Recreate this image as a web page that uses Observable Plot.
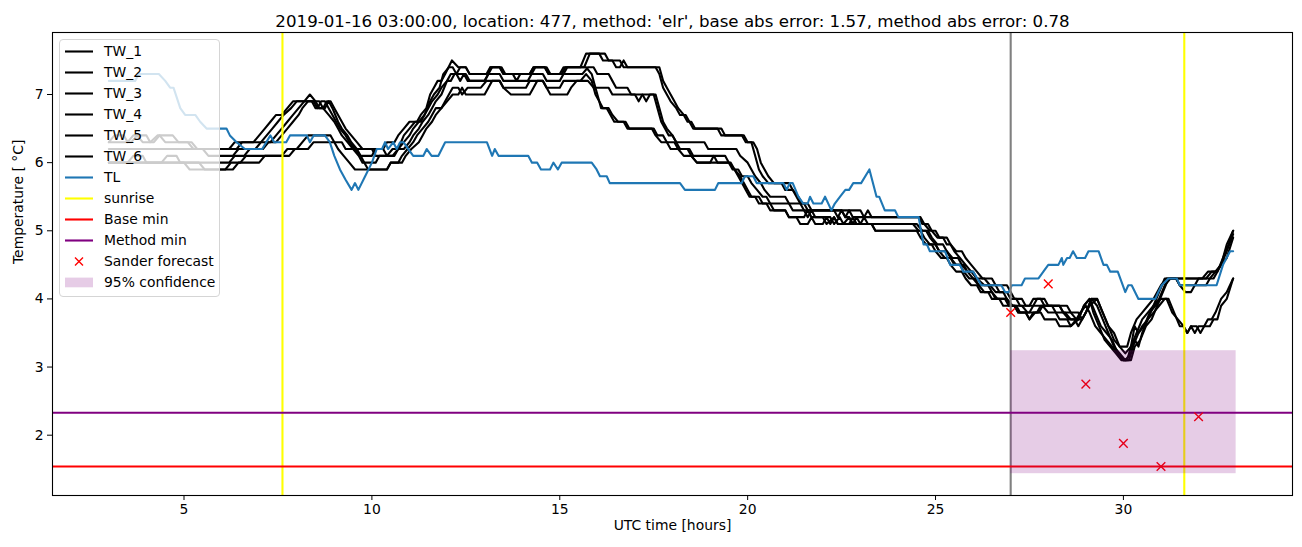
<!DOCTYPE html>
<html><head><meta charset="utf-8">
<script src="https://cdn.jsdelivr.net/npm/d3@7"></script>
<script src="https://cdn.jsdelivr.net/npm/@observablehq/plot@0.6"></script>
<style>
html,body{margin:0;padding:0;background:#fff;}
#wrap{position:relative;width:1302px;height:547px;font-family:"DejaVu Sans",sans-serif;color:#000;overflow:hidden;}
#legend{position:absolute;left:59px;top:39px;width:161px;height:258px;background:rgba(255,255,255,0.8);border:1px solid #d5d5d5;border-radius:4px;box-sizing:border-box;}
.row{position:absolute;left:0;height:21px;line-height:21px;font-size:13.9px;white-space:nowrap;}
.row svg{position:absolute;left:5px;top:0;}
.row span{position:absolute;left:44px;top:0;}
</style></head>
<body><div id="wrap"></div>
<script>
// ---- data ----
const TW_1 = [[3.0,6.3],[3.15,6.4],[3.4,6.4],[3.5,6.3],[3.65,6.4],[4.0,6.4],[4.1,6.3],[4.3,6.4],[4.7,6.4],[4.85,6.3],[5.2,6.3],[5.35,6.2],[6.2,6.2],[6.35,6.3],[6.85,6.3],[7.0,6.4],[7.15,6.5],[7.3,6.6],[7.45,6.7],[7.6,6.7],[7.75,6.8],[7.9,6.9],[8.2,6.9],[8.35,7.0],[8.5,6.9],[8.6,6.8],[8.75,6.8],[8.85,6.9],[8.95,6.8],[9.1,6.6],[9.2,6.5],[9.35,6.4],[9.45,6.3],[9.6,6.2],[10.3,6.2],[10.4,6.3],[10.6,6.3],[10.7,6.4],[10.85,6.5],[11.0,6.6],[11.2,6.6],[11.3,6.7],[11.45,6.8],[11.55,7.0],[11.65,7.1],[11.75,7.2],[11.85,7.2],[11.95,7.3],[12.13,7.5],[12.3,7.4],[12.5,7.4],[12.6,7.3],[13.05,7.3],[13.15,7.4],[13.45,7.4],[13.55,7.3],[14.2,7.3],[14.3,7.4],[14.6,7.4],[14.7,7.3],[15.0,7.3],[15.1,7.4],[15.55,7.4],[15.7,7.6],[16.05,7.6],[16.15,7.5],[16.4,7.5],[16.5,7.4],[16.6,7.4],[16.7,7.5],[16.8,7.4],[17.55,7.4],[17.65,7.3],[17.75,7.1],[17.85,7.0],[17.95,6.9],[18.1,6.8],[18.2,6.7],[18.35,6.7],[18.45,6.6],[18.55,6.5],[19.2,6.5],[19.3,6.4],[19.85,6.4],[19.95,6.3],[20.1,6.3],[20.2,6.1],[20.3,5.9],[20.4,5.8],[20.55,5.7],[20.9,5.7],[21.0,5.6],[21.2,5.6],[21.3,5.5],[21.4,5.4],[21.5,5.3],[22.5,5.3],[22.6,5.2],[22.7,5.3],[22.8,5.2],[24.55,5.2],[24.65,5.1],[24.8,5.1],[24.9,5.0],[25.05,4.9],[25.2,4.9],[25.3,4.8],[25.4,4.8],[25.5,4.7],[25.65,4.6],[25.8,4.5],[25.95,4.4],[26.1,4.3],[26.3,4.2],[26.6,4.2],[26.7,4.1],[26.9,4.1],[27.0,4.0],[27.15,4.0],[27.25,3.9],[27.5,3.9],[27.6,4.0],[27.8,4.0],[27.9,3.9],[28.3,3.9],[28.4,3.8],[28.6,3.8],[28.75,3.7],[28.9,3.7],[29.1,3.9],[29.3,4.0],[29.45,3.8],[29.6,3.6],[29.75,3.4],[29.9,3.3],[30.1,3.3],[30.2,3.5],[30.35,3.7],[30.5,3.8],[30.65,3.9],[30.8,4.0],[31.0,4.2],[31.15,4.3],[32.2,4.3],[32.35,4.4],[32.5,4.4],[32.6,4.5],[32.75,4.8],[32.92,5.0]];
const TW_2 = [[3.0,6.3],[3.6,6.3],[3.75,6.4],[3.9,6.3],[4.2,6.3],[4.35,6.4],[4.5,6.3],[5.1,6.3],[5.25,6.2],[6.4,6.2],[6.55,6.3],[7.05,6.3],[7.2,6.4],[7.35,6.5],[7.5,6.6],[7.65,6.7],[7.85,6.8],[8.0,6.9],[8.6,6.9],[8.7,6.8],[8.8,6.9],[8.9,6.9],[9.0,6.8],[9.1,6.7],[9.2,6.6],[9.3,6.5],[9.45,6.4],[9.6,6.3],[9.75,6.2],[10.0,6.2],[10.1,6.1],[10.6,6.1],[10.7,6.2],[10.85,6.4],[11.0,6.5],[11.15,6.6],[11.3,6.6],[11.4,6.7],[11.55,6.9],[11.65,7.0],[11.8,7.1],[11.9,7.3],[12.05,7.4],[12.15,7.4],[12.25,7.3],[12.35,7.4],[12.5,7.4],[12.6,7.3],[13.1,7.3],[13.2,7.4],[13.4,7.4],[13.5,7.3],[13.75,7.3],[13.85,7.2],[13.95,7.3],[14.25,7.3],[14.35,7.4],[14.65,7.4],[14.75,7.3],[15.1,7.3],[15.2,7.4],[15.65,7.4],[15.8,7.6],[16.2,7.6],[16.3,7.5],[16.6,7.5],[16.7,7.4],[17.65,7.4],[17.75,7.2],[17.85,7.1],[17.95,7.0],[18.05,6.9],[18.15,6.8],[18.3,6.7],[18.4,6.6],[18.5,6.6],[18.6,6.5],[19.3,6.5],[19.4,6.4],[19.9,6.4],[20.0,6.3],[20.15,6.3],[20.25,6.2],[20.35,6.0],[20.45,5.9],[20.55,5.8],[20.7,5.7],[21.1,5.7],[21.2,5.6],[21.35,5.5],[21.45,5.4],[21.6,5.4],[21.7,5.3],[23.0,5.3],[23.1,5.2],[23.2,5.3],[23.3,5.2],[24.6,5.2],[24.7,5.1],[24.85,5.0],[25.0,5.0],[25.1,4.9],[25.3,4.9],[25.4,4.8],[25.55,4.7],[25.7,4.7],[25.8,4.6],[25.95,4.5],[26.1,4.4],[26.25,4.3],[26.5,4.3],[26.6,4.2],[26.9,4.2],[27.0,4.1],[27.1,4.0],[27.3,4.0],[27.4,3.9],[27.6,3.9],[27.7,4.0],[27.9,4.0],[28.0,3.9],[28.5,3.9],[28.6,3.8],[28.8,3.8],[28.9,3.7],[29.0,3.8],[29.15,4.0],[29.3,4.0],[29.45,3.8],[29.6,3.6],[29.75,3.5],[29.9,3.3],[30.05,3.2],[30.2,3.3],[30.35,3.5],[30.5,3.7],[30.65,3.8],[30.8,3.9],[30.95,4.1],[31.1,4.3],[31.4,4.3],[31.5,4.2],[31.9,4.2],[32.0,4.3],[32.3,4.3],[32.45,4.4],[32.6,4.5],[32.75,4.7],[32.92,4.95]];
const TW_3 = [[3.0,6.2],[5.5,6.2],[5.65,6.1],[6.3,6.1],[6.45,6.2],[6.9,6.2],[7.05,6.3],[7.3,6.3],[7.45,6.4],[7.6,6.5],[7.75,6.6],[7.9,6.7],[8.05,6.8],[8.2,6.9],[8.4,6.9],[8.5,6.8],[8.7,6.8],[8.85,6.7],[9.0,6.6],[9.1,6.5],[9.2,6.4],[9.35,6.3],[9.5,6.2],[9.65,6.1],[9.75,6.0],[10.1,6.0],[10.2,6.1],[10.4,6.1],[10.55,6.2],[10.85,6.2],[11.0,6.3],[11.1,6.4],[11.25,6.5],[11.35,6.6],[11.5,6.7],[11.6,6.8],[11.7,6.9],[11.85,7.0],[12.0,7.2],[12.1,7.2],[12.2,7.3],[12.5,7.3],[12.6,7.2],[13.0,7.2],[13.1,7.3],[13.4,7.3],[13.5,7.2],[14.15,7.2],[14.25,7.3],[14.55,7.3],[14.65,7.2],[15.0,7.2],[15.1,7.3],[15.6,7.3],[15.75,7.4],[15.9,7.4],[16.0,7.3],[16.3,7.3],[16.4,7.2],[16.5,7.1],[16.8,7.1],[16.9,7.0],[17.2,7.0],[17.3,6.9],[17.4,7.0],[17.55,7.0],[17.65,6.8],[17.75,6.6],[17.85,6.5],[18.0,6.4],[18.1,6.3],[18.85,6.3],[18.95,6.2],[19.7,6.2],[19.8,6.1],[20.0,6.0],[20.1,5.9],[20.2,5.8],[20.35,5.7],[20.45,5.6],[20.6,5.5],[21.0,5.5],[21.1,5.4],[21.5,5.4],[21.6,5.3],[22.3,5.3],[22.4,5.2],[22.5,5.3],[22.6,5.2],[22.7,5.2],[22.8,5.1],[22.9,5.2],[23.0,5.1],[23.1,5.2],[23.2,5.1],[24.5,5.1],[24.65,5.0],[24.8,5.0],[24.9,4.9],[25.05,4.8],[25.2,4.8],[25.3,4.7],[25.45,4.6],[25.6,4.6],[25.7,4.5],[25.85,4.4],[26.0,4.4],[26.1,4.3],[26.3,4.3],[26.45,4.2],[26.6,4.1],[26.8,4.1],[26.9,4.0],[27.05,3.9],[27.3,3.9],[27.45,3.8],[27.7,3.8],[27.8,3.9],[28.3,3.9],[28.4,3.8],[28.55,3.7],[28.7,3.7],[28.8,3.6],[29.0,3.8],[29.15,4.0],[29.3,3.9],[29.45,3.7],[29.6,3.5],[29.75,3.3],[29.9,3.2],[30.05,3.1],[30.2,3.2],[30.3,3.4],[30.4,3.3],[30.5,3.5],[30.65,3.7],[30.8,3.9],[30.95,4.0],[31.1,4.2],[31.25,4.3],[32.1,4.3],[32.25,4.4],[32.45,4.4],[32.6,4.5],[32.75,4.6],[32.92,4.9]];
const TW_4 = [[3.0,6.0],[3.5,6.0],[3.65,6.1],[3.9,6.1],[4.0,6.0],[4.4,6.0],[4.55,6.1],[4.8,6.1],[4.9,6.0],[6.2,6.0],[6.35,6.1],[6.6,6.1],[6.75,6.2],[7.1,6.2],[7.25,6.3],[7.45,6.3],[7.6,6.4],[7.75,6.5],[7.9,6.6],[8.05,6.7],[8.15,6.8],[8.3,6.9],[8.45,6.9],[8.55,6.8],[8.65,6.9],[8.75,6.9],[8.85,6.8],[8.95,6.7],[9.05,6.6],[9.15,6.5],[9.3,6.4],[9.4,6.3],[9.55,6.2],[9.7,6.1],[9.8,6.0],[9.9,5.9],[10.4,5.9],[10.5,6.0],[10.7,6.0],[10.8,6.1],[10.95,6.2],[11.1,6.3],[11.2,6.4],[11.35,6.5],[11.5,6.6],[11.6,6.7],[11.7,6.8],[11.85,6.8],[11.95,6.9],[12.05,7.0],[12.15,7.1],[12.3,7.1],[12.4,7.0],[12.55,7.1],[12.9,7.1],[13.05,7.2],[13.4,7.2],[13.5,7.1],[14.1,7.1],[14.2,7.2],[14.55,7.2],[14.65,7.1],[15.0,7.1],[15.1,7.2],[15.55,7.2],[15.7,7.3],[15.85,7.2],[15.95,7.0],[16.05,6.9],[16.1,6.8],[16.25,6.8],[16.35,6.7],[16.45,6.6],[16.7,6.6],[16.8,6.5],[17.45,6.5],[17.55,6.4],[17.7,6.3],[17.85,6.3],[17.95,6.2],[18.15,6.2],[18.3,6.1],[18.5,6.1],[18.65,6.0],[19.5,6.0],[19.6,5.9],[19.75,5.9],[19.85,5.8],[20.0,5.8],[20.1,5.7],[20.25,5.6],[20.4,5.5],[20.5,5.5],[20.6,5.4],[21.1,5.4],[21.2,5.3],[21.5,5.3],[21.6,5.2],[21.7,5.3],[21.8,5.2],[22.0,5.2],[22.1,5.1],[22.3,5.2],[22.4,5.1],[22.7,5.1],[22.8,5.2],[22.9,5.1],[24.4,5.1],[24.55,5.0],[24.75,5.0],[24.85,4.9],[25.0,4.8],[25.1,4.7],[25.3,4.7],[25.4,4.6],[25.55,4.5],[25.75,4.5],[25.85,4.4],[26.0,4.3],[26.15,4.2],[26.4,4.2],[26.5,4.1],[26.65,4.0],[26.85,4.0],[26.95,3.9],[27.1,3.9],[27.2,3.8],[27.5,3.8],[27.6,3.9],[28.1,3.9],[28.2,3.8],[28.45,3.8],[28.6,3.7],[28.8,3.7],[28.95,3.9],[29.1,4.0],[29.25,3.8],[29.4,3.6],[29.55,3.5],[29.7,3.4],[29.85,3.2],[30.0,3.1],[30.15,3.1],[30.25,3.3],[30.4,3.5],[30.55,3.6],[30.7,3.8],[30.85,3.9],[31.0,4.0],[31.15,4.0],[31.3,3.8],[31.45,3.7],[31.6,3.6],[31.7,3.5],[31.8,3.6],[31.9,3.5],[32.0,3.6],[32.15,3.6],[32.25,3.7],[32.35,3.7],[32.45,3.8],[32.6,4.0],[32.75,4.1],[32.92,4.3]];
const TW_5 = [[3.0,6.0],[5.0,6.0],[5.15,5.9],[6.1,5.9],[6.25,6.0],[6.5,6.0],[6.65,6.1],[7.6,6.1],[7.75,6.2],[8.0,6.2],[8.15,6.3],[8.3,6.4],[8.9,6.4],[9.0,6.3],[9.1,6.2],[9.25,6.1],[9.4,6.0],[9.55,5.9],[10.4,5.9],[10.5,6.0],[10.8,6.0],[10.9,6.1],[11.05,6.2],[11.25,6.3],[11.35,6.4],[11.45,6.5],[11.6,6.6],[11.7,6.7],[11.85,6.8],[12.0,6.9],[12.15,7.0],[12.3,7.0],[12.4,7.1],[12.5,7.0],[13.0,7.0],[13.1,7.1],[13.2,7.2],[13.4,7.2],[13.5,7.1],[13.7,7.0],[14.2,7.0],[14.3,7.1],[14.4,7.2],[14.55,7.2],[14.65,7.1],[14.75,7.0],[15.2,7.0],[15.3,7.1],[15.45,7.2],[15.75,7.2],[15.9,7.1],[16.3,7.1],[16.4,7.0],[17.0,7.0],[17.1,6.9],[17.2,7.0],[17.5,7.0],[17.6,6.8],[17.7,6.6],[17.8,6.5],[17.9,6.4],[18.0,6.4],[18.1,6.3],[18.2,6.2],[18.45,6.2],[18.55,6.1],[19.4,6.1],[19.5,6.0],[19.65,5.9],[19.75,5.8],[19.85,5.7],[19.95,5.6],[20.05,5.5],[20.2,5.5],[20.3,5.4],[20.5,5.4],[20.6,5.3],[21.0,5.3],[21.1,5.2],[21.3,5.2],[21.4,5.1],[21.6,5.1],[21.7,5.2],[21.8,5.1],[22.0,5.1],[22.1,5.2],[22.2,5.1],[22.3,5.2],[22.4,5.1],[23.3,5.1],[23.4,5.0],[24.5,5.0],[24.6,4.9],[24.75,4.8],[24.9,4.8],[25.0,4.7],[25.15,4.6],[25.3,4.6],[25.4,4.5],[25.55,4.4],[25.7,4.4],[25.8,4.3],[25.95,4.2],[26.1,4.2],[26.2,4.1],[26.4,4.1],[26.5,4.0],[26.7,4.0],[26.8,3.9],[27.1,3.9],[27.2,3.8],[27.4,3.8],[27.5,3.7],[27.6,3.8],[27.75,3.8],[27.85,3.9],[28.0,3.8],[28.2,3.8],[28.3,3.7],[28.5,3.7],[28.6,3.6],[28.8,3.7],[28.95,3.9],[29.1,4.0],[29.2,3.8],[29.35,3.6],[29.5,3.4],[29.65,3.3],[29.8,3.2],[29.95,3.1],[30.1,3.1],[30.2,3.3],[30.3,3.6],[30.4,3.5],[30.5,3.6],[30.65,3.7],[30.8,3.8],[30.95,3.9],[31.1,4.0],[31.2,4.0],[31.35,3.8],[31.5,3.6],[31.6,3.6],[31.7,3.5],[31.8,3.6],[31.95,3.6],[32.05,3.5],[32.15,3.6],[32.3,3.6],[32.4,3.7],[32.5,3.7],[32.6,3.9],[32.75,4.0],[32.92,4.3]];
const TW_6 = [[3.0,6.0],[5.4,6.0],[5.55,5.9],[6.3,5.9],[6.45,6.0],[7.0,6.0],[7.15,6.1],[7.8,6.1],[7.95,6.2],[8.3,6.2],[8.45,6.3],[9.2,6.3],[9.3,6.2],[9.6,6.2],[9.7,6.1],[10.0,6.1],[10.1,6.2],[10.3,6.2],[10.4,6.1],[10.55,6.1],[10.7,6.2],[10.85,6.3],[11.0,6.4],[11.1,6.5],[11.25,6.6],[11.4,6.7],[11.5,6.8],[11.6,6.9],[11.75,7.0],[11.85,7.1],[12.0,7.2],[12.1,7.3],[12.25,7.3],[12.35,7.2],[12.45,7.3],[12.55,7.2],[13.0,7.2],[13.1,7.3],[13.15,7.4],[13.4,7.4],[13.5,7.3],[14.2,7.3],[14.3,7.4],[14.6,7.4],[14.7,7.3],[15.05,7.3],[15.15,7.4],[15.7,7.4],[15.85,7.3],[15.95,7.1],[16.05,6.9],[16.15,6.8],[16.3,6.8],[16.4,6.7],[16.55,6.6],[16.75,6.6],[16.85,6.5],[17.5,6.5],[17.6,6.4],[17.75,6.4],[17.85,6.3],[18.05,6.3],[18.15,6.2],[18.4,6.2],[18.5,6.1],[18.65,6.0],[19.0,6.0],[19.1,6.1],[19.2,6.0],[19.55,6.0],[19.65,5.9],[19.8,5.8],[19.9,5.7],[20.0,5.6],[20.1,5.5],[20.3,5.5],[20.4,5.4],[20.6,5.4],[20.7,5.3],[21.0,5.3],[21.1,5.2],[21.5,5.2],[21.6,5.3],[21.7,5.2],[22.2,5.2],[22.3,5.1],[22.45,5.2],[22.55,5.1],[22.7,5.2],[22.8,5.1],[23.3,5.1],[23.4,5.0],[24.6,5.0],[24.7,4.9],[24.85,4.8],[25.0,4.8],[25.1,4.7],[25.25,4.6],[25.4,4.6],[25.5,4.5],[25.65,4.5],[25.75,4.4],[25.9,4.3],[26.05,4.3],[26.15,4.2],[26.3,4.1],[26.5,4.1],[26.6,4.0],[26.9,4.0],[27.0,3.9],[27.15,3.9],[27.25,3.8],[27.4,3.8],[27.5,3.7],[27.65,3.8],[27.8,3.8],[27.9,3.7],[28.2,3.7],[28.3,3.6],[28.6,3.6],[28.75,3.7],[28.85,3.8],[29.0,3.9],[29.1,3.8],[29.25,3.6],[29.4,3.5],[29.55,3.4],[29.7,3.3],[29.85,3.2],[30.0,3.1],[30.2,3.1],[30.3,3.3],[30.45,3.4],[30.6,3.6],[30.75,3.7],[30.9,3.9],[31.05,4.1],[31.2,4.3],[31.4,4.3],[31.5,4.2],[31.65,4.1],[31.8,4.1],[31.9,4.2],[32.2,4.2],[32.3,4.3],[32.4,4.3],[32.5,4.4],[32.65,4.6],[32.8,4.8],[32.92,5.0]];
const TL = [[3.0,7.2],[3.7,7.2],[3.8,7.3],[4.33,7.3],[4.5,7.2],[4.63,7.1],[4.72,7.1],[4.9,6.8],[5.03,6.7],[5.3,6.7],[5.43,6.6],[5.6,6.5],[6.13,6.5],[6.22,6.4],[6.4,6.3],[6.62,6.2],[7.08,6.2],[7.3,6.4],[7.4,6.3],[7.72,6.3],[7.82,6.4],[8.27,6.4],[8.35,6.3],[8.45,6.4],[8.75,6.4],[8.88,6.3],[9.0,6.1],[9.15,5.9],[9.3,5.75],[9.46,5.6],[9.55,5.7],[9.64,5.6],[9.82,5.8],[10.0,6.0],[10.13,6.2],[10.27,6.2],[10.35,6.3],[10.43,6.2],[10.57,6.3],[10.66,6.2],[10.75,6.3],[10.84,6.3],[10.97,6.2],[11.1,6.1],[11.37,6.1],[11.46,6.2],[11.59,6.1],[11.77,6.1],[11.86,6.2],[11.95,6.3],[13.06,6.3],[13.2,6.1],[13.27,6.2],[13.37,6.1],[14.16,6.1],[14.26,6.0],[14.4,6.0],[14.5,5.9],[14.74,5.9],[14.83,6.0],[14.95,5.9],[15.05,6.0],[15.85,6.0],[15.98,5.9],[16.07,5.8],[16.25,5.8],[16.33,5.7],[18.2,5.7],[18.33,5.6],[19.13,5.6],[19.22,5.7],[19.84,5.7],[19.93,5.8],[20.15,5.8],[20.24,5.7],[20.95,5.7],[21.04,5.6],[21.12,5.7],[21.2,5.7],[21.35,5.5],[21.48,5.4],[21.6,5.4],[21.66,5.5],[21.75,5.4],[21.97,5.4],[22.06,5.5],[22.23,5.3],[22.32,5.4],[22.46,5.5],[22.6,5.6],[22.7,5.6],[22.81,5.7],[23.02,5.7],[23.24,5.9],[23.43,5.5],[23.5,5.5],[23.65,5.3],[23.92,5.3],[24.01,5.2],[24.55,5.2],[24.68,4.8],[24.77,4.8],[24.85,4.7],[25.25,4.7],[25.39,4.5],[25.65,4.5],[25.74,4.4],[26.0,4.4],[26.22,4.2],[26.75,4.2],[26.85,4.1],[26.95,4.1],[27.03,4.2],[27.29,4.2],[27.38,4.3],[27.74,4.3],[27.87,4.4],[28.0,4.5],[28.27,4.5],[28.36,4.6],[28.4,4.5],[28.5,4.6],[28.57,4.6],[28.66,4.7],[28.76,4.6],[28.98,4.6],[29.07,4.7],[29.34,4.7],[29.47,4.5],[29.56,4.5],[29.65,4.4],[29.85,4.4],[30.05,4.1],[30.13,4.2],[30.22,4.2],[30.4,4.0],[30.85,4.0],[30.93,4.1],[31.02,4.2],[31.2,4.3],[31.42,4.3],[31.5,4.2],[32.48,4.2],[32.65,4.5],[32.84,4.7],[32.92,4.7]];
const sunriseHours = [7.62, 31.62];
const forecastHour = [27];
const baseMin = [1.54];
const methodMin = [2.33];
const sanderHours = [27, 28, 29, 30, 31, 32];
const sanderTemps = [3.80, 4.22, 2.75, 1.88, 1.54, 2.27];
const confHours = [27, 33];
const confTemps = [1.435, 3.24];
const xTicks = [5, 10, 15, 20, 25, 30];
const yTicks = [2, 3, 4, 5, 6, 7];
const titleText = "2019-01-16 03:00:00, location: 477, method: 'elr', base abs error: 1.57, method abs error: 0.78";
const xLabel = "UTC time [hours]";
const yLabel = "Temperature [ \u00B0C]";
const legendLabels = ["TW_1","TW_2","TW_3","TW_4","TW_5","TW_6","TL","sunrise","Base min","Method min","Sander forecast","95% confidence"];
const legendColors = ["black","black","black","black","black","black","#1f77b4","yellow","red","purple","red","purple"];
const legendKinds = ["line","line","line","line","line","line","line","line","line","line","x","patch"];

// ---- chart ----
const tw = [TW_1, TW_2, TW_3, TW_4, TW_5, TW_6];
const sander = sanderHours.map((h, i) => ({h, t: sanderTemps[i]}));
const conf = [{x1: confHours[0], x2: confHours[1], y1: confTemps[0], y2: confTemps[1]}];
const LW = 2.1;
const marks = [];
tw.forEach(s => marks.push(Plot.line(s, {x: d => d[0], y: d => d[1], stroke: "black", strokeWidth: LW})));
marks.push(Plot.line(TL, {x: d => d[0], y: d => d[1], stroke: "#1f77b4", strokeWidth: LW}));
marks.push(Plot.ruleX(forecastHour, {stroke: "gray", strokeWidth: LW}));
marks.push(Plot.ruleX(sunriseHours, {stroke: "yellow", strokeWidth: LW}));
marks.push(Plot.ruleY(baseMin, {stroke: "red", strokeWidth: LW}));
marks.push(Plot.ruleY(methodMin, {stroke: "purple", strokeWidth: LW}));
marks.push(Plot.dot(sander, {x: "h", y: "t", symbol: "times", r: 4, stroke: "red", strokeWidth: 1.4}));
marks.push(Plot.rect(conf, {x1: "x1", x2: "x2", y1: "y1", y2: "y2", fill: "purple", fillOpacity: 0.2}));
marks.push(Plot.frame({stroke: "black", strokeWidth: 1.1}));
marks.push(Plot.axisX(xTicks, {anchor: "bottom", tickSize: 5, tickPadding: 4, fontSize: 13.9, label: null, tickFormat: d => String(d)}));
marks.push(Plot.axisY(yTicks, {anchor: "left", tickSize: 5, tickPadding: 4, fontSize: 13.9, label: null, tickFormat: d => String(d)}));
marks.push(Plot.text([xLabel], {frameAnchor: "bottom", dy: 34, fontSize: 13.9}));
marks.push(Plot.text([yLabel], {frameAnchor: "left", rotate: -90, dx: -34, fontSize: 13.9}));
marks.push(Plot.text([titleText], {frameAnchor: "top", dy: -17, fontSize: 16.67}));

const chart = Plot.plot({
  width: 1302, height: 547,
  marginLeft: 52, marginRight: 10, marginTop: 32, marginBottom: 52,
  x: {domain: [1.5, 34.5], label: null},
  y: {domain: [1.115, 7.91], label: null},
  style: {fontFamily: "DejaVu Sans", fontSize: "13.9px", color: "black", background: "white", overflow: "visible"},
  marks
});
const wrap = document.getElementById("wrap");
wrap.appendChild(chart);

// ---- legend ----
const leg = document.createElement("div");
leg.id = "legend";
legendLabels.forEach((lab, i) => {
  const row = document.createElement("div");
  row.className = "row";
  row.style.top = (1 + 21 * i) + "px";
  const ns = "http://www.w3.org/2000/svg";
  const svg = document.createElementNS(ns, "svg");
  svg.setAttribute("width", 28); svg.setAttribute("height", 21);
  const k = legendKinds[i], c = legendColors[i];
  if (k === "line") {
    const l = document.createElementNS(ns, "line");
    l.setAttribute("x1", 0); l.setAttribute("x2", 28); l.setAttribute("y1", 10.5); l.setAttribute("y2", 10.5);
    l.setAttribute("stroke", c); l.setAttribute("stroke-width", LW);
    svg.appendChild(l);
  } else if (k === "x") {
    const p = document.createElementNS(ns, "path");
    p.setAttribute("d", "M10,6.5L18,14.5M18,6.5L10,14.5");
    p.setAttribute("stroke", c); p.setAttribute("stroke-width", 1.4);
    svg.appendChild(p);
  } else {
    const r = document.createElementNS(ns, "rect");
    r.setAttribute("x", 0); r.setAttribute("y", 5.6); r.setAttribute("width", 28); r.setAttribute("height", 9.7);
    r.setAttribute("fill", c); r.setAttribute("fill-opacity", 0.2);
    svg.appendChild(r);
  }
  row.appendChild(svg);
  const sp = document.createElement("span");
  sp.textContent = lab;
  row.appendChild(sp);
  leg.appendChild(row);
});
wrap.appendChild(leg);
</script>
</body></html>
